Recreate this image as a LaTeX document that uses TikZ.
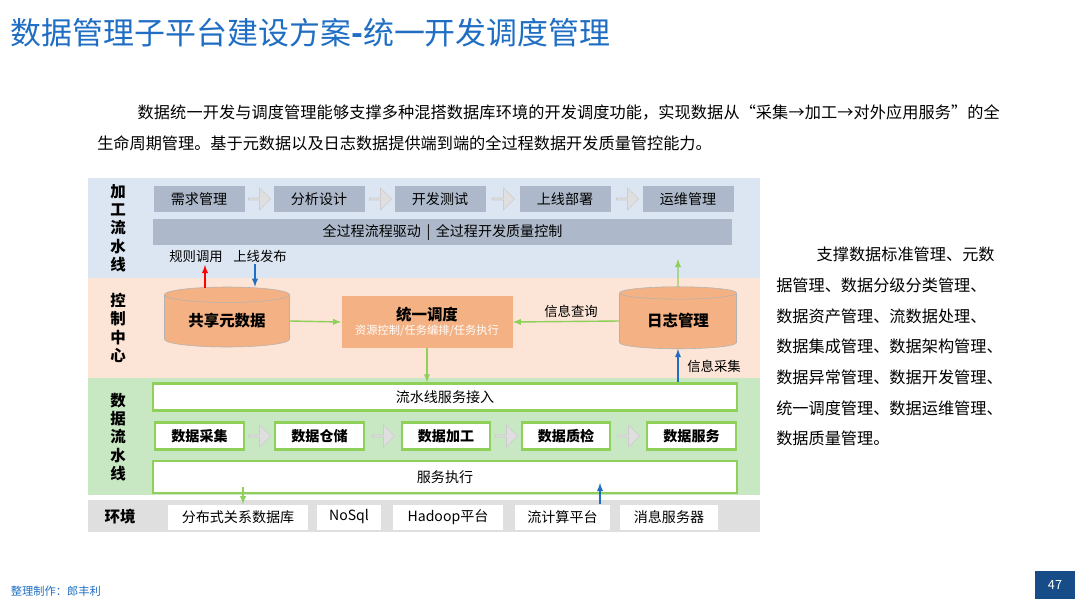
\documentclass[tikz,border=0pt]{standalone}
\usepackage{fontspec}
\setmainfont{Noto Sans CJK SC}
\XeTeXlinebreaklocale "zh"
\XeTeXlinebreakskip = 0pt plus 1pt
\usetikzlibrary{shapes.geometric,shapes.arrows}
\definecolor{titleblue}{HTML}{1F6EC4}
\definecolor{bandblue}{HTML}{DCE6F2}
\definecolor{bandpeach}{HTML}{FCE4D6}
\definecolor{bandgreen}{HTML}{C8E8C4}
\definecolor{stepgrey}{HTML}{ADB9CA}
\definecolor{orangefill}{HTML}{F4B183}
\definecolor{linegreen}{HTML}{8ED05A}
\definecolor{arrowblue}{HTML}{1F6EC4}
\def\px{0.025cm}
\tikzset{
  stage/.style={fill=stepgrey,minimum width=91*\px,minimum height=26*\px,inner sep=0pt,font=\fontsize{10}{12}\selectfont},
  flow/.style={fill=white,draw=linegreen,line width=1.5pt,minimum height=27*\px,inner sep=0pt,font=\fontsize{10}{12}\selectfont},
  env/.style={fill=white,minimum height=25*\px,inner sep=0pt,font=\fontsize{10}{12}\selectfont},
  gap/.style={single arrow,fill=gray!25,draw=gray!40,minimum width=22*\px,minimum height=22*\px,single arrow head extend=2pt,inner sep=0pt},
  db/.style={cylinder,shape border rotate=90,aspect=0.2,fill=orangefill,draw=gray!60,inner sep=0pt,font=\bfseries\fontsize{11}{13}\selectfont},
  side/.style={font=\bfseries\fontsize{11}{13}\selectfont,align=center},
  lbl/.style={font=\fontsize{9.5}{11}\selectfont},
  garrow/.style={-latex,linegreen,line width=1pt},
  barrow/.style={-latex,arrowblue,line width=1pt},
  rarrow/.style={-latex,red,line width=1pt},
}
\begin{document}
\begin{tikzpicture}[x=\px,y=-\px]
  \fill[white] (0,0) rectangle (1080,608);
  \node[anchor=west,text=titleblue,font=\fontsize{22}{26}\selectfont] (title) at (6,33) {数据管理子平台建设方案\textbf{-}统一开发调度管理};
  \node[anchor=north west,text width=905*\px,inner sep=0pt,font=\fontsize{11.5}{22.5}\selectfont] (intro) at (97,104)
    {\hspace*{2.5em}数据统一开发与调度管理能够支撑多种混搭数据库环境的开发调度功能，实现数据从“采集→加工→对外应用服务”的全生命周期管理。基于元数据以及日志数据提供端到端的全过程数据开发质量管控能力。};

  % bands
  \fill[bandblue] (88,178) rectangle (760,278);
  \fill[bandpeach] (88,278) rectangle (760,378);
  \fill[bandgreen] (88,378) rectangle (760,495);
  \fill[gray!25] (88,500) rectangle (760,532);
  \node[side] (lblA) at (118,228) {加\\工\\流\\水\\线};
  \node[side] (lblB) at (118,328) {控\\制\\中\\心};
  \node[side] (lblC) at (118,437) {数\\据\\流\\水\\线};
  \node[side] (lblD) at (120,517) {环境};

  % processing pipeline
  \node[stage] (s1) at (199,199) {需求管理};
  \node[stage] (s2) at (319,199) {分析设计};
  \node[stage] (s3) at (440,199) {开发测试};
  \node[stage] (s4) at (565,199) {上线部署};
  \node[stage] (s5) at (688,199) {运维管理};
  \node[gap] at (259,199) {};
  \node[gap] at (380,199) {};
  \node[gap] at (503,199) {};
  \node[gap] at (627,199) {};
  \node[stage,minimum width=579*\px] (drive) at (442.5,232) {全过程流程驱动 \,|\, 全过程开发质量控制};
  \node[lbl] (rule) at (196,256) {规则调用};
  \node[lbl] (publish) at (260,256) {上线发布};

  % control center
  \node[db,minimum width=125*\px,minimum height=60*\px] (meta) at (227,321) {共享元数据};
  \node[fill=orangefill,minimum width=171*\px,minimum height=52*\px,inner sep=0pt,align=center] (sched) at (427,322)
    {{\bfseries\fontsize{11}{13}\selectfont 统一调度}\\[-2pt]{\color{white}\fontsize{8}{9}\selectfont 资源控制/任务编排/任务执行}};
  \node[db,minimum width=117*\px,minimum height=62*\px] (log) at (678,321) {日志管理};
  \node[lbl] (query) at (571,311) {信息查询};
  \node[lbl] (collect) at (714,366) {信息采集};
  \coordinate (ruleEnd) at (205,265);
  \coordinate (pubStart) at (255,264);
  \coordinate (logTop) at (678,259);
  \draw[rarrow] (meta.north -| ruleEnd) ++(0,1) -- (ruleEnd);
  \draw[barrow] (pubStart) -- (pubStart |- meta.north);
  \draw[garrow] (meta.east) -- (sched.west);
  \draw[garrow] (log.west) -- (sched.east);
  \draw[garrow] (log.north) -- (logTop);

  % data pipeline
  \node[flow,minimum width=584*\px] (access) at (445,397) {流水线服务接入};
  \node[flow,minimum width=89*\px,font=\bfseries\fontsize{10}{12}\selectfont] (d1) at (199.5,436) {数据采集};
  \node[flow,minimum width=89*\px,font=\bfseries\fontsize{10}{12}\selectfont] (d2) at (319.5,436) {数据仓储};
  \node[flow,minimum width=88*\px,font=\bfseries\fontsize{10}{12}\selectfont] (d3) at (446,436) {数据加工};
  \node[flow,minimum width=88*\px,font=\bfseries\fontsize{10}{12}\selectfont] (d4) at (566,436) {数据质检};
  \node[flow,minimum width=89*\px,font=\bfseries\fontsize{10}{12}\selectfont] (d5) at (691.5,436) {数据服务};
  \node[gap] at (259,436) {};
  \node[gap] at (383,436) {};
  \node[gap] at (506,436) {};
  \node[gap] at (628,436) {};
  \node[flow,minimum width=584*\px,minimum height=32*\px] (exec) at (445,477) {服务执行};
  \draw[garrow] (sched.south) -- (sched.south |- access.north);
  \draw[barrow] (access.north -| log.south) -- (log.south);

  % environment
  \node[env,minimum width=140*\px] (e1) at (238,517) {分布式关系数据库};
  \node[env,minimum width=64*\px] (e2) at (349,517) {NoSql};
  \node[env,minimum width=110*\px] (e3) at (448,517) {Hadoop平台};
  \node[env,minimum width=95*\px] (e4) at (562.5,517) {流计算平台};
  \node[env,minimum width=98*\px] (e5) at (669,517) {消息服务器};
  \coordinate (execOut) at (243,487);
  \coordinate (execIn) at (600,483);
  \draw[garrow] (execOut) -- (execOut |- e1.north);
  \draw[barrow] (execIn |- e4.north) -- (execIn);

  % side text
  \node[anchor=north west,inner sep=0pt,align=left,font=\fontsize{11.5}{21.8}\selectfont] (note) at (776,247)
    {\hspace*{2.5em}支撑数据标准管理、元数\\据管理、数据分级分类管理、\\数据资产管理、流数据处理、\\数据集成管理、数据架构管理、\\数据异常管理、数据开发管理、\\统一调度管理、数据运维管理、\\数据质量管理。};

  % footer
  \node[anchor=west,text=titleblue,font=\fontsize{8}{10}\selectfont] (maker) at (6,591) {整理制作：郎丰利};
  \node[fill=titleblue!70!black,text=white,minimum width=40*\px,minimum height=28*\px,inner sep=0pt,font=\fontsize{9}{10}\selectfont] (page) at (1055,585) {47};
\end{tikzpicture}
\end{document}
